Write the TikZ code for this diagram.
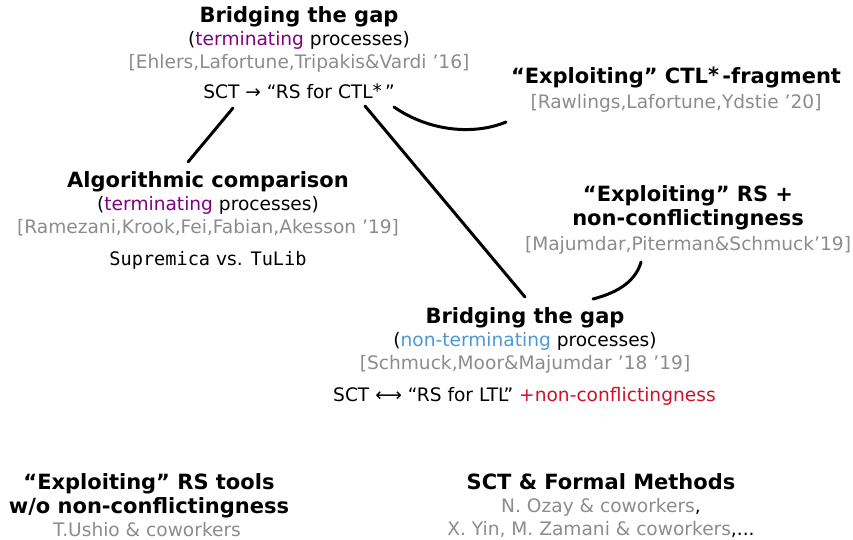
\documentclass[tikz,border=0pt]{standalone}
\usepackage{fontspec}
\setmainfont{DejaVu Sans}
\setmonofont{DejaVu Sans Mono}
\definecolor{citegray}{HTML}{8C8C8C}
\definecolor{termpurple}{HTML}{800080}
\definecolor{ntblue}{HTML}{4F97D4}
\definecolor{ncred}{HTML}{D0102A}
\newcommand{\ctlstar}{CTL\raisebox{0.1ex}{*}}
\begin{document}
\begin{tikzpicture}[x=1pt,y=-1pt,
  txt/.style={anchor=base,inner sep=0pt,font=\fontsize{18.6}{22}\selectfont},
  ttl/.style={txt,font=\fontsize{21}{24}\selectfont\bfseries},
  cite/.style={txt,text=citegray},
  link/.style={line width=3pt,line cap=round}]
\useasboundingbox (0,0) rectangle (853,540);
% Node A
\node[ttl] (a1) at (299,23) {Bridging the gap};
\node[txt] (a2) at (299,46) {(\textcolor{termpurple}{terminating} processes)};
\node[cite] (a3) at (299,69) {[Ehlers,Lafortune,Tripakis\&Vardi ’16]};
\node[txt] (a4) at (299,99) {SCT → “RS for \ctlstar\,”};
% Node B
\node[ttl] (b1) at (676,84) {“Exploiting” \ctlstar\,-fragment};
\node[cite] (b2) at (676,109) {[Rawlings,Lafortune,Ydstie ’20]};
% Node C
\node[ttl] (c1) at (208,187) {Algorithmic comparison};
\node[txt] (c2) at (208,210) {(\textcolor{termpurple}{terminating} processes)};
\node[cite] (c3) at (208,233) {[Ramezani,Krook,Fei,Fabian,Akesson ’19]};
\node[txt] (c4) at (208,265) {\texttt{Supremica} vs. \texttt{TuLib}};
% Node D
\node[ttl] (d1) at (688,201) {“Exploiting” RS +};
\node[ttl] (d2) at (688,225) {non-conflictingness};
\node[cite] (d3) at (688,250) {[Majumdar,Piterman\&Schmuck’19]};
% Node E
\node[ttl] (e1) at (525,323) {Bridging the gap};
\node[txt] (e2) at (525,346) {(\textcolor{ntblue}{non-terminating} processes)};
\node[cite] (e3) at (525,369) {[Schmuck,Moor\&Majumdar ’18 ’19]};
\node[txt,anchor=base west] (e4) at (333,401) {SCT ⟷ “RS for LTL” \textcolor{ncred}{+non-conflictingness}};
% Node F
\node[ttl] (f1) at (149,489) {“Exploiting” RS tools};
\node[ttl] (f2) at (149,513) {w/o non-conflictingness};
\node[cite] (f3) at (147,536) {T.Ushio \& coworkers};
% Node G
\node[ttl] (g1) at (601,489) {SCT \& Formal Methods};
\node[cite] (g2) at (601,512) {N. Ozay \& coworkers\textcolor{black}{,}};
\node[cite] (g3) at (601,535) {X. Yin, M. Zamani \& coworkers\textcolor{black}{,...}};
% connectors
\coordinate (pA1) at (233,108);
\coordinate (pC) at (188,162);
\coordinate (pA2) at (365,106);
\coordinate (pE1) at (525,297);
\coordinate (pA3) at (394,107);
\coordinate (pB) at (506,122);
\coordinate (pE2) at (593,299);
\coordinate (pD) at (641,262);
\draw[link] (pA1) -- (pC);
\draw[link] (pA2) -- (pE1);
\draw[link] (pA3) .. controls (430,132) and (475,135) .. (pB);
\draw[link] (pE2) .. controls (620,292) and (636,280) .. (pD);
\end{tikzpicture}
\end{document}
